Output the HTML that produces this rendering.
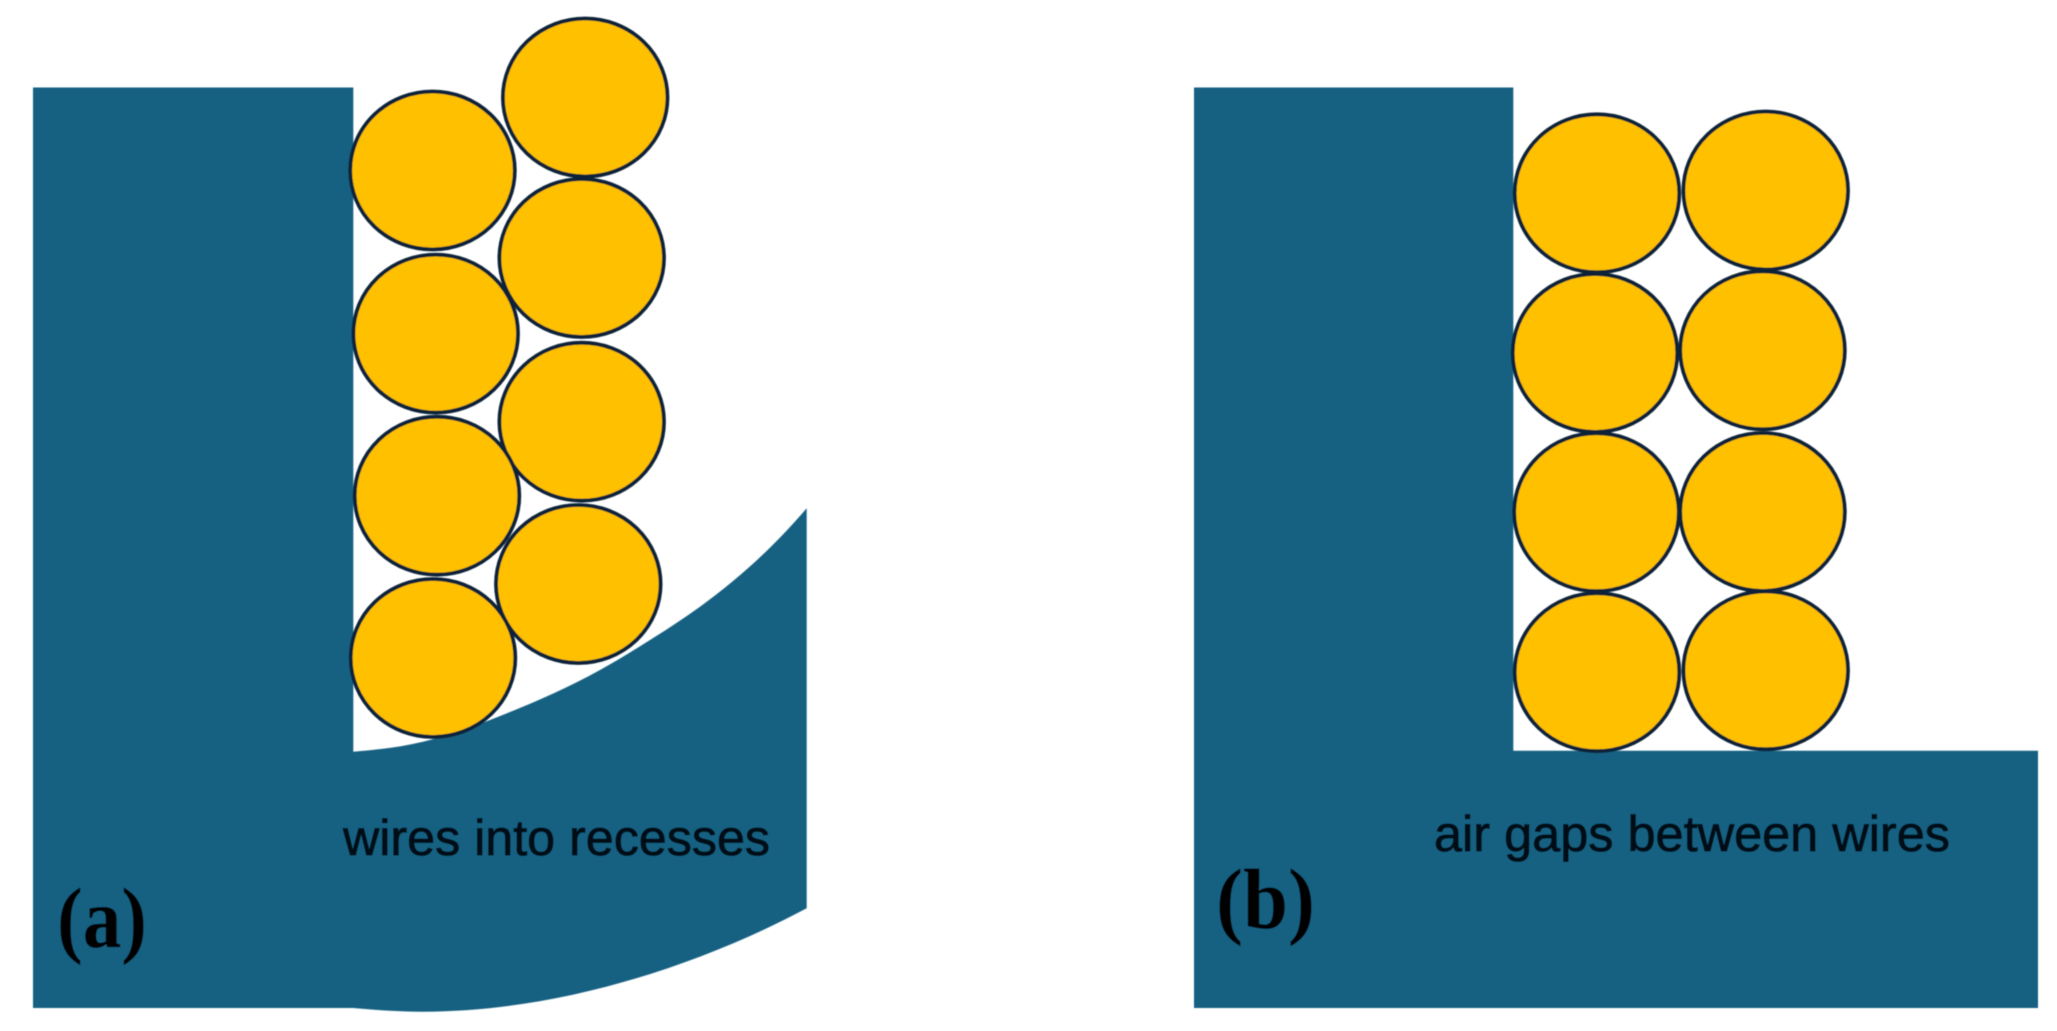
<!DOCTYPE html>
<html>
<head>
<meta charset="utf-8">
<style>
html,body{margin:0;padding:0;background:#fff;width:2057px;height:1031px;overflow:hidden}
svg{display:block}
.w{fill:#ffc000;stroke:#082438;stroke-width:3.8}
.t{font-family:"Liberation Sans",sans-serif;font-size:50px;fill:#000a12;stroke:#000a12;stroke-width:.9}
.l{font-family:"Liberation Serif",serif;font-weight:bold;font-size:86px;fill:#000}
</style>
</head>
<body>
<svg width="2057" height="1031" viewBox="0 0 2057 1031" xmlns="http://www.w3.org/2000/svg">
<defs><filter id="b" x="-2%" y="-2%" width="104%" height="104%"><feGaussianBlur stdDeviation="0.55"/></filter></defs>
<rect width="2057" height="1031" fill="#fff"/>
<g filter="url(#b)">
<path fill="#156082" d="M33,87.5 H353.3 V751.7 C376.5,749.8 399.8,747.3 423,741.7 C445.3,736.3 467.7,728.7 490,720 C526.7,705.7 563.3,690.2 600,670 C616.7,660.8 633.3,650.5 650,640 C666.7,629.5 683.3,618.7 700,606.7 C735,581.5 771,550 806.7,508.3 V908.3 C700,965 560,1011.7 423,1011.7 C400,1011.7 375,1010 353,1008 H33 Z"/>
<g class="w">
<ellipse cx="585.2" cy="97.5" rx="82.3" ry="79"/>
<ellipse cx="432.5" cy="170.5" rx="82.3" ry="79"/>
<ellipse cx="581.7" cy="258" rx="82.3" ry="79"/>
<ellipse cx="435.7" cy="333.6" rx="82.3" ry="79"/>
<ellipse cx="581.7" cy="421.7" rx="82.3" ry="79"/>
<ellipse cx="437" cy="495.7" rx="82.3" ry="79"/>
<ellipse cx="578.3" cy="584" rx="82.3" ry="79"/>
<ellipse cx="433" cy="658" rx="82.3" ry="79"/>
</g>
<text class="t" x="343" y="855" textLength="427" lengthAdjust="spacingAndGlyphs">wires into recesses</text>
<text class="l" x="57" y="947" textLength="90" lengthAdjust="spacingAndGlyphs">(a)</text>

<path fill="#156082" d="M1194,87.5 H1513.3 V750.7 H2038 V1008 H1194 Z"/>
<g class="w">
<ellipse cx="1597" cy="193.3" rx="82.3" ry="79"/>
<ellipse cx="1765.7" cy="190.5" rx="82.3" ry="79"/>
<ellipse cx="1595" cy="353" rx="82.3" ry="79"/>
<ellipse cx="1762.5" cy="350.3" rx="82.3" ry="79"/>
<ellipse cx="1596.5" cy="512.2" rx="82.3" ry="79"/>
<ellipse cx="1762.5" cy="512" rx="82.3" ry="79"/>
<ellipse cx="1597" cy="672.2" rx="82.3" ry="79"/>
<ellipse cx="1765.7" cy="670.3" rx="82.3" ry="79"/>
</g>
<text class="t" x="1434" y="851" textLength="516" lengthAdjust="spacingAndGlyphs">air gaps between wires</text>
<text class="l" x="1216" y="928" textLength="99" lengthAdjust="spacingAndGlyphs">(b)</text>
</g>
</svg>
</body>
</html>
